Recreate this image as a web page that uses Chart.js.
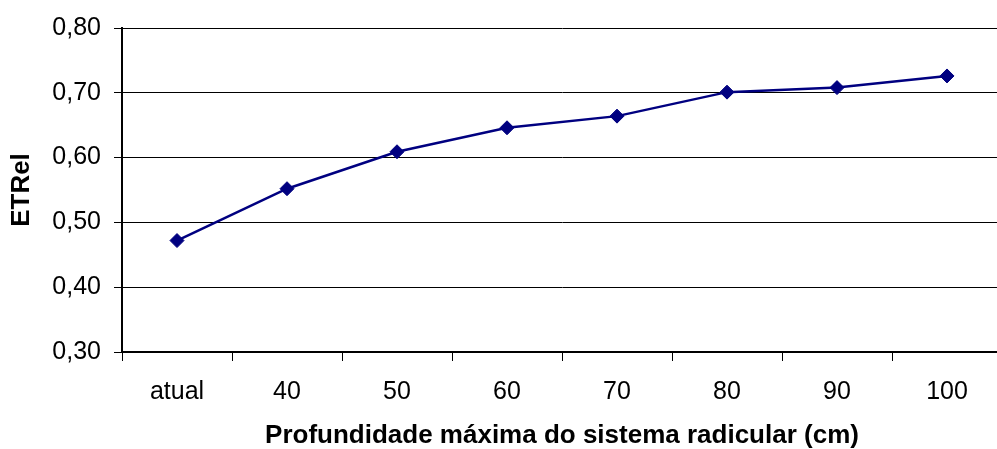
<!DOCTYPE html>
<html>
<head>
<meta charset="utf-8">
<script src="https://cdn.jsdelivr.net/npm/chart.js@4"></script>
<style>
  html, body { margin: 0; padding: 0; background: #fff; overflow: hidden; }
  #wrap { width: 1010px; height: 460px; }
</style>
</head>
<body>
<div id="wrap"><canvas id="c"></canvas></div>
<script>
// Profundidade máxima do sistema radicular vs ETRel
const categories = ['atual', '40', '50', '60', '70', '80', '90', '100'];
const etrel = [0.472, 0.552, 0.609, 0.646, 0.664, 0.701, 0.708, 0.726];
const yTicks = [0.30, 0.40, 0.50, 0.60, 0.70, 0.80];

const FONT = '"Liberation Sans", Arial, sans-serif';
const NAVY = '#000080';

new Chart(document.getElementById('c'), {
  type: 'line',
  data: {
    labels: categories,
    datasets: [{
      data: etrel,
      borderColor: NAVY,
      backgroundColor: NAVY,
      borderWidth: 2.5,
      pointStyle: 'rectRot',
      pointRadius: 7,
      pointBorderWidth: 1,
      pointBackgroundColor: NAVY,
      pointBorderColor: NAVY,
      tension: 0,
      fill: false
    }]
  },
  options: {
    responsive: true,
    maintainAspectRatio: false,
    animation: false,
    layout: { padding: { top: 25, right: 4, left: 0, bottom: 0 } },
    plugins: { legend: { display: false }, tooltip: { enabled: false } },
    scales: {
      x: {
        type: 'category',
        offset: true,
        grid: {
          offset: true,
          drawOnChartArea: false,
          drawTicks: true,
          tickLength: 9,
          color: '#000',
          lineWidth: 1
        },
        border: { display: true, color: '#000', width: 2 },
        ticks: {
          color: '#000',
          font: { family: FONT, size: 25 },
          padding: 16,
          maxRotation: 0,
          autoSkip: false
        },
        title: {
          display: true,
          text: 'Profundidade máxima do sistema radicular (cm)',
          color: '#000',
          font: { family: FONT, size: 26, weight: 'bold' },
          padding: { top: 0, bottom: 9 }
        },
        afterFit: s => { s.height = 108; }
      },
      y: {
        min: 0.30,
        max: 0.80,
        afterBuildTicks: s => { s.ticks = yTicks.map(v => ({ value: v })); },
        grid: {
          color: '#000',
          lineWidth: 1,
          drawTicks: true,
          tickLength: 8
        },
        border: { display: true, color: '#000', width: 2 },
        ticks: {
          color: '#000',
          font: { family: FONT, size: 25 },
          padding: 13,
          callback: v => v.toFixed(2).replace('.', ',')
        },
        title: {
          display: true,
          text: 'ETRel',
          color: '#000',
          font: { family: FONT, size: 26, weight: 'bold' },
          padding: { top: 6, bottom: 0 }
        },
        afterFit: s => { s.width = 122; }
      }
    }
  }
});
</script>
</body>
</html>
